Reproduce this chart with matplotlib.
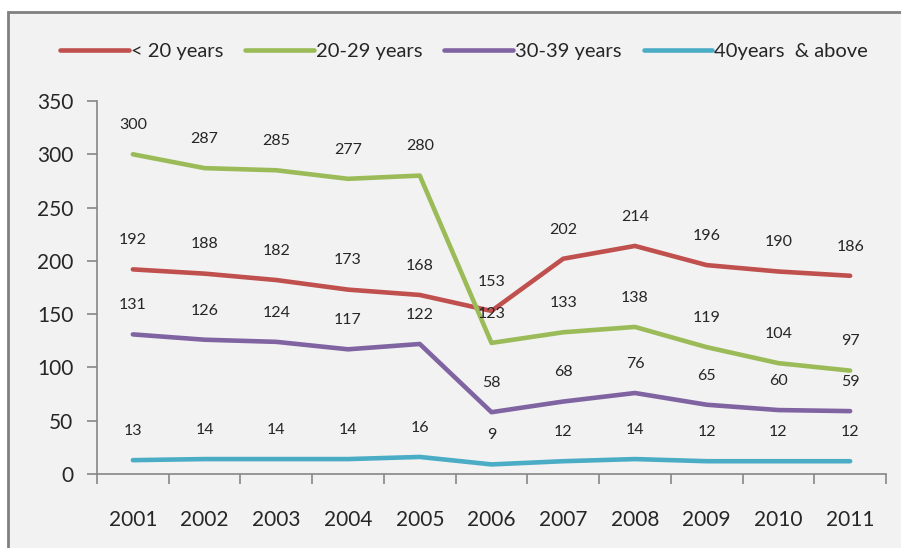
import matplotlib.pyplot as plt
from matplotlib.patches import Rectangle

years = ['2001', '2002', '2003', '2004', '2005', '2006', '2007', '2008', '2009', '2010', '2011']
under20 = [192, 188, 182, 173, 168, 153, 202, 214, 196, 190, 186]
age20_29 = [300, 287, 285, 277, 280, 123, 133, 138, 119, 104, 97]
age30_39 = [131, 126, 124, 117, 122, 58, 68, 76, 65, 60, 59]
age40up = [13, 14, 14, 14, 16, 9, 12, 14, 12, 12, 12]

names = ['< 20 years', '20-29 years', '30-39 years', '40years  & above']
colors = ['#C0504D', '#9BBB59', '#8064A2', '#4BACC6']
series = [under20, age20_29, age30_39, age40up]

plt.rcParams['font.family'] = ['Lato', 'DejaVu Sans']

fig = plt.figure(figsize=(9.01, 5.48), dpi=100, facecolor='white')
# grey chart area with border, cut off at right/bottom like the source
bg = Rectangle((8 / 901, -0.05), 1.0, 1 - 12 / 548 + 0.05, transform=fig.transFigure,
               facecolor='#F2F2F2', edgecolor='#808080', linewidth=2, zorder=-10)
fig.patches.append(bg)

ax = fig.add_axes([97 / 901, 1 - 474 / 548, (886 - 97) / 901, (474 - 101) / 548])
ax.set_facecolor('none')

x = list(range(len(years)))
for vals, name, c in zip(series, names, colors):
    ax.plot(x, vals, color=c, lw=3.3, label=name, solid_capstyle='round', solid_joinstyle='round')
    for xi, v in zip(x, vals):
        ax.annotate(str(v), (xi, v), xytext=(0, 21), textcoords='offset points',
                    ha='center', va='center', fontsize=11.5, color='#262626')

ax.set_xlim(-0.5, len(years) - 0.5)
ax.set_ylim(0, 350)
ax.set_yticks(range(0, 351, 50))
ax.set_xticks(x)
ax.set_xticklabels(years)
ax.set_xticks([i - 0.5 for i in range(len(years) + 1)], minor=True)
ax.tick_params(axis='x', which='major', length=0, pad=26, labelsize=15, colors='#262626')
ax.tick_params(axis='x', which='minor', length=7, width=1.2, color='#868686', direction='out')
ax.tick_params(axis='y', length=7, width=1.2, color='#868686', pad=10, labelsize=15, labelcolor='#262626')
for s in ['top', 'right']:
    ax.spines[s].set_visible(False)
for s in ['left', 'bottom']:
    ax.spines[s].set_color('#868686')
    ax.spines[s].set_linewidth(1.2)

fig.legend(loc='center', bbox_to_anchor=(0.515, 1 - 51 / 548), ncol=4, frameon=False,
           fontsize=14.5, handlelength=3.4, handletextpad=0.1, columnspacing=1.1,
           labelcolor='#262626')

fig.savefig('out.png', dpi=100, facecolor=fig.get_facecolor())
